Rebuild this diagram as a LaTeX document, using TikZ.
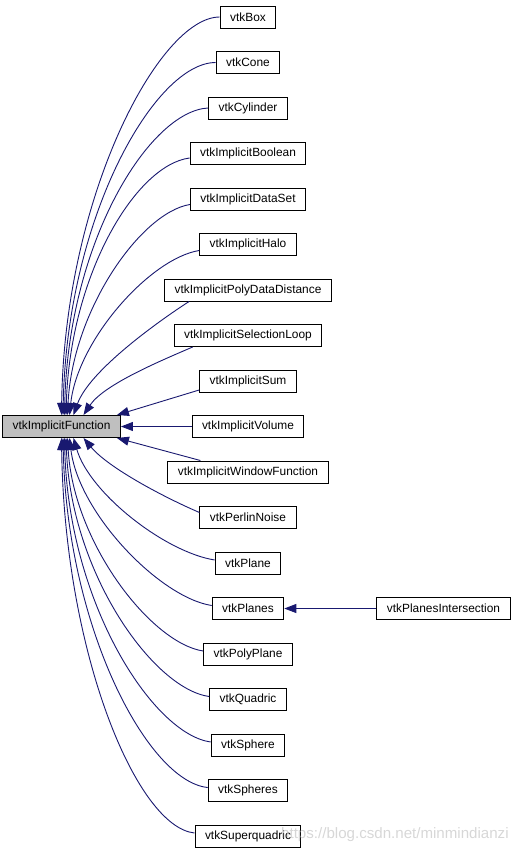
\documentclass[tikz,border=0pt]{standalone}
\usepackage{fontspec}
\newfontfamily\arialfont{Liberation Sans}
\usetikzlibrary{arrows.meta}

\definecolor{azulherencia}{RGB}{25,25,112}
\definecolor{grisraiz}{RGB}{191,191,191}

\tikzset{
    clase/.style={draw=black, line width=1pt, fill=white,
        font=\arialfont\fontsize{11.9}{14}\selectfont,
        inner xsep=10pt, inner ysep=0pt, minimum height=22pt},
    raiz/.style={clase, fill=grisraiz},
    herencia/.style={draw=azulherencia, line width=0.9pt,
        -{Triangle[length=12pt,width=9pt]}},
}

\begin{document}
\begin{tikzpicture}[x=1pt,y=-1pt]

    \useasboundingbox (0,0) rectangle (519,855);

    % clase base
    \node[raiz] (vtkImplicitFunction) at (61.5,426.5) {vtkImplicitFunction};

    % subclases
    \node[clase] (vtkBox)                      at (248,17)    {vtkBox};
    \node[clase] (vtkCone)                     at (248,62.5)  {vtkCone};
    \node[clase] (vtkCylinder)                 at (248,108)   {vtkCylinder};
    \node[clase] (vtkImplicitBoolean)          at (248,153.5) {vtkImplicitBoolean};
    \node[clase] (vtkImplicitDataSet)          at (248,199)   {vtkImplicitDataSet};
    \node[clase] (vtkImplicitHalo)             at (248,244.5) {vtkImplicitHalo};
    \node[clase] (vtkImplicitPolyDataDistance) at (248,290)   {vtkImplicitPolyDataDistance};
    \node[clase] (vtkImplicitSelectionLoop)    at (248,335.5) {vtkImplicitSelectionLoop};
    \node[clase] (vtkImplicitSum)              at (248,381)   {vtkImplicitSum};
    \node[clase] (vtkImplicitVolume)           at (248,426.5) {vtkImplicitVolume};
    \node[clase] (vtkImplicitWindowFunction)   at (248,472)   {vtkImplicitWindowFunction};
    \node[clase] (vtkPerlinNoise)              at (248,517.5) {vtkPerlinNoise};
    \node[clase] (vtkPlane)                    at (248,563)   {vtkPlane};
    \node[clase] (vtkPlanes)                   at (248,608.5) {vtkPlanes};
    \node[clase] (vtkPolyPlane)                at (248,654)   {vtkPolyPlane};
    \node[clase] (vtkQuadric)                  at (248,699.5) {vtkQuadric};
    \node[clase] (vtkSphere)                   at (248,745)   {vtkSphere};
    \node[clase] (vtkSpheres)                  at (248,790.5) {vtkSpheres};
    \node[clase] (vtkSuperquadric)             at (248,836)   {vtkSuperquadric};

    % nivel siguiente
    \node[clase] (vtkPlanesIntersection) at (443.5,608.5) {vtkPlanesIntersection};

    % flechas de arriba
    \draw[herencia] (vtkBox.west) .. controls +(-60,0) and +(3,-220) .. (vtkImplicitFunction.north);
    \draw[herencia] (vtkCone.west) .. controls +(-60,0) and +(4,-200) .. ([xshift=1.5pt]vtkImplicitFunction.north);
    \draw[herencia] (vtkCylinder.west) .. controls +(-58,3) and +(4,-175) .. ([xshift=3pt]vtkImplicitFunction.north);
    \draw[herencia] ([yshift=-4.5pt]vtkImplicitBoolean.west) .. controls +(-54,7) and +(4,-140) .. ([xshift=4.5pt]vtkImplicitFunction.north);
    \draw[herencia] ([yshift=-5.5pt]vtkImplicitDataSet.west) .. controls +(-49,8) and +(5,-105) .. ([xshift=6pt]vtkImplicitFunction.north);
    \draw[herencia] ([yshift=-6pt]vtkImplicitHalo.west) .. controls +(-49,8) and +(8,-75) .. ([xshift=8pt]vtkImplicitFunction.north);
    \draw[herencia] ([xshift=25pt]vtkImplicitPolyDataDistance.south west) .. controls +(-28,18) and +(16,-45) .. ([xshift=12pt]vtkImplicitFunction.north);
    \draw[herencia] ([xshift=19pt]vtkImplicitSelectionLoop.south west) .. controls +(-35,15) and +(20,-30) .. ([xshift=22pt]vtkImplicitFunction.north);
    \draw[herencia] ([yshift=-9pt]vtkImplicitSum.west) -- ([xshift=-4pt]vtkImplicitFunction.north east);

    % flecha horizontal
    \draw[herencia] (vtkImplicitVolume.west) -- (vtkImplicitFunction.east);

    % flechas de abajo
    \draw[herencia] ([xshift=33pt]vtkImplicitWindowFunction.north west) -- ([xshift=-4pt]vtkImplicitFunction.south east);
    \draw[herencia] ([yshift=5pt]vtkPerlinNoise.west) .. controls +(-35,-15) and +(25,30) .. ([xshift=22pt]vtkImplicitFunction.south);
    \draw[herencia] ([yshift=3pt]vtkPlane.west) .. controls +(-50,-8) and +(16,55) .. ([xshift=12pt]vtkImplicitFunction.south);
    \draw[herencia] ([yshift=3pt]vtkPlanes.west) .. controls +(-52,-8) and +(9,75) .. ([xshift=8pt]vtkImplicitFunction.south);
    \draw[herencia] ([yshift=3pt]vtkPolyPlane.west) .. controls +(-52,-8) and +(6,105) .. ([xshift=6pt]vtkImplicitFunction.south);
    \draw[herencia] ([yshift=3pt]vtkQuadric.west) .. controls +(-56,-8) and +(5,135) .. ([xshift=4.5pt]vtkImplicitFunction.south);
    \draw[herencia] ([yshift=3pt]vtkSphere.west) .. controls +(-58,-8) and +(4,165) .. ([xshift=3pt]vtkImplicitFunction.south);
    \draw[herencia] ([yshift=3pt]vtkSpheres.west) .. controls +(-60,-6) and +(4,190) .. ([xshift=1.5pt]vtkImplicitFunction.south);
    \draw[herencia] ([yshift=3pt]vtkSuperquadric.west) .. controls +(-58,-6) and +(3,215) .. (vtkImplicitFunction.south);

    % vtkPlanes
    \draw[herencia] (vtkPlanesIntersection.west) -- (vtkPlanes.east);

    % marca de agua
    \node[anchor=west, text=gray!45, opacity=0.7, inner sep=0pt,
        font=\arialfont\fontsize{15.1}{18}\selectfont] (marca) at (281,835)
        {https://blog.csdn.net/minmindianzi};

\end{tikzpicture}
\end{document}
